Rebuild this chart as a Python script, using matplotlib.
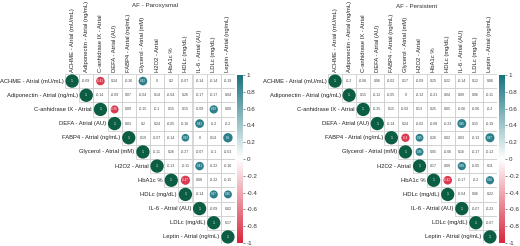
import matplotlib
matplotlib.use("Agg")
import matplotlib.pyplot as plt
from matplotlib.patches import Rectangle, Circle
from matplotlib.colors import LinearSegmentedColormap, Normalize
import matplotlib.cm as cm

plt.rcParams['font.family'] = ['Liberation Sans', 'DejaVu Sans']

labels = ["ACHME - Atrial (mU/mL)", "Adiponectin - Atrial (ng/mL)", "C-anhidrase IX - Atrial",
          "DEFA - Atrial (AU)", "FABP4 - Atrial (ng/mL)", "Glycerol - Atrial (mM)", "H2O2 - Atrial",
          "HbA1c %", "HDLc (mg/dL)", "IL-6 - Atrial (AU)", "LDLc (mg/dL)", "Leptin - Atrial (ng/mL)"]

# upper triangle, row by row (diagonal first)
parox = [
    [1, -0.09, -0.41, 0.24, -0.26, 0.42, 0, 0.2, -0.07, -0.14, -0.14, -0.19],
    [1, -0.14, -0.09, 0.07, -0.04, 0.14, -0.04, 0.26, -0.17, -0.17, 0.04],
    [1, -0.36, 0.09, -0.15, -0.1, 0.15, 0.15, -0.09, 0.39, 0.09],
    [1, 0.03, 0.2, 0.24, -0.05, -0.16, 0.43, -0.2, -0.2],
    [1, 0.19, -0.07, -0.14, 0.33, 0, 0.14, 0.5],
    [1, -0.11, 0.26, -0.27, -0.07, -0.1, -0.01],
    [1, -0.13, -0.11, 0.41, -0.22, -0.16],
    [1, -0.47, 0.08, -0.22, -0.15],
    [1, -0.14, 0.37, 0.36],
    [1, -0.09, 0.02],
    [1, 0.17],
    [1],
]
parox_sig = [(0, 2), (0, 5), (2, 3), (2, 10), (3, 9), (4, 8), (4, 11), (6, 9), (7, 8), (8, 10), (8, 11)]

persist = [
    [1, -0.2, -0.06, 0.06, -0.02, 0.17, -0.09, 0.25, 0.22, -0.14, 0.12, 0.06],
    [1, 0.15, -0.12, -0.05, 0, -0.12, -0.21, 0.04, 0.09, 0.06, -0.11],
    [1, -0.25, 0.15, -0.02, 0.13, 0.25, 0.05, -0.06, -0.06, -0.2],
    [1, -0.14, 0.24, -0.02, -0.08, -0.23, 0.45, 0.15, -0.19],
    [1, -0.4, 0.35, 0.26, 0.02, 0.03, -0.13, 0.47],
    [1, 0.36, 0.05, -0.06, 0.16, -0.17, -0.12],
    [1, 0.17, 0.09, 0.38, -0.05, 0.11],
    [1, -0.42, -0.17, -0.2, 0.38],
    [1, -0.04, 0.06, 0.22],
    [1, -0.07, -0.22],
    [1, -0.07],
    [1],
]
persist_sig = [(3, 9), (4, 5), (4, 6), (4, 11), (5, 6), (6, 9), (7, 8), (7, 11)]

cmap = LinearSegmentedColormap.from_list("rt", ["#d7263d", "#ffffff", "#17737f"])
diag_col = "#0b5d43"
n = len(labels)

fig = plt.figure(figsize=(5.2, 2.46), dpi=100)
W, H = 520, 246


def panel(x0, gw, cbx, title, tx, vals, sig):
    ax = fig.add_axes([x0 / W, 2 / H, gw / W, 170 / H])
    ax.set_xlim(-0.5, n - 0.5)
    ax.set_ylim(n - 0.5, -0.5)
    ax.axis("off")
    for i in range(n):
        for k, v in enumerate(vals[i]):
            j = i + k
            ax.add_patch(Rectangle((j - 0.5, i - 0.5), 1, 1, fc="white", ec="#c8c8c8", lw=0.5))
            if i == j:
                ax.add_patch(Circle((j, i), 0.47, fc=diag_col, ec="none"))
                ax.text(j, i, "1", ha="center", va="center", fontsize=2.6, color="white")
            elif (i, j) in sig:
                r = 0.47 * abs(v) ** 0.5
                c = cmap(0.5 + 0.45 * (1 if v > 0 else -1))
                ax.add_patch(Circle((j, i), r, fc=c, ec="none"))
                ax.text(j, i, f"{v:g}", ha="center", va="center", fontsize=2.2, color="white")
            else:
                ax.text(j, i, f"{v:g}", ha="center", va="center", fontsize=2.6, color="#444444")
        ax.text(i - 0.6, i, labels[i], ha="right", va="center", fontsize=4.2, color="#222222")
        ax.text(i, -0.65, labels[i], ha="center", va="bottom", rotation=90, fontsize=4.2, color="#222222")
    fig.text(tx / W, 1 - 6 / H, title, ha="center", va="center", fontsize=4.5, color="#333333")

    cax = fig.add_axes([cbx / W, 3 / H, 6 / W, 168 / H])
    cb = fig.colorbar(cm.ScalarMappable(norm=Normalize(-1, 1), cmap=cmap), cax=cax,
                      ticks=[1, 0.8, 0.6, 0.4, 0.2, 0, -0.2, -0.4, -0.6, -0.8, -1])
    cb.outline.set_visible(False)
    cb.ax.set_yticklabels(["1", "0.8", "0.6", "0.4", "0.2", "0", "-0.2", "-0.4", "-0.6", "-0.8", "-1"])
    cb.ax.tick_params(labelsize=4.5, length=1.5, width=0.4, pad=1, colors="#333333")


panel(65, 170, 237, "AF - Paroxysmal", 155, parox, parox_sig)
panel(328, 169, 499, "AF - Persistent", 417, persist, persist_sig)

fig.savefig("out.png", dpi=100)
